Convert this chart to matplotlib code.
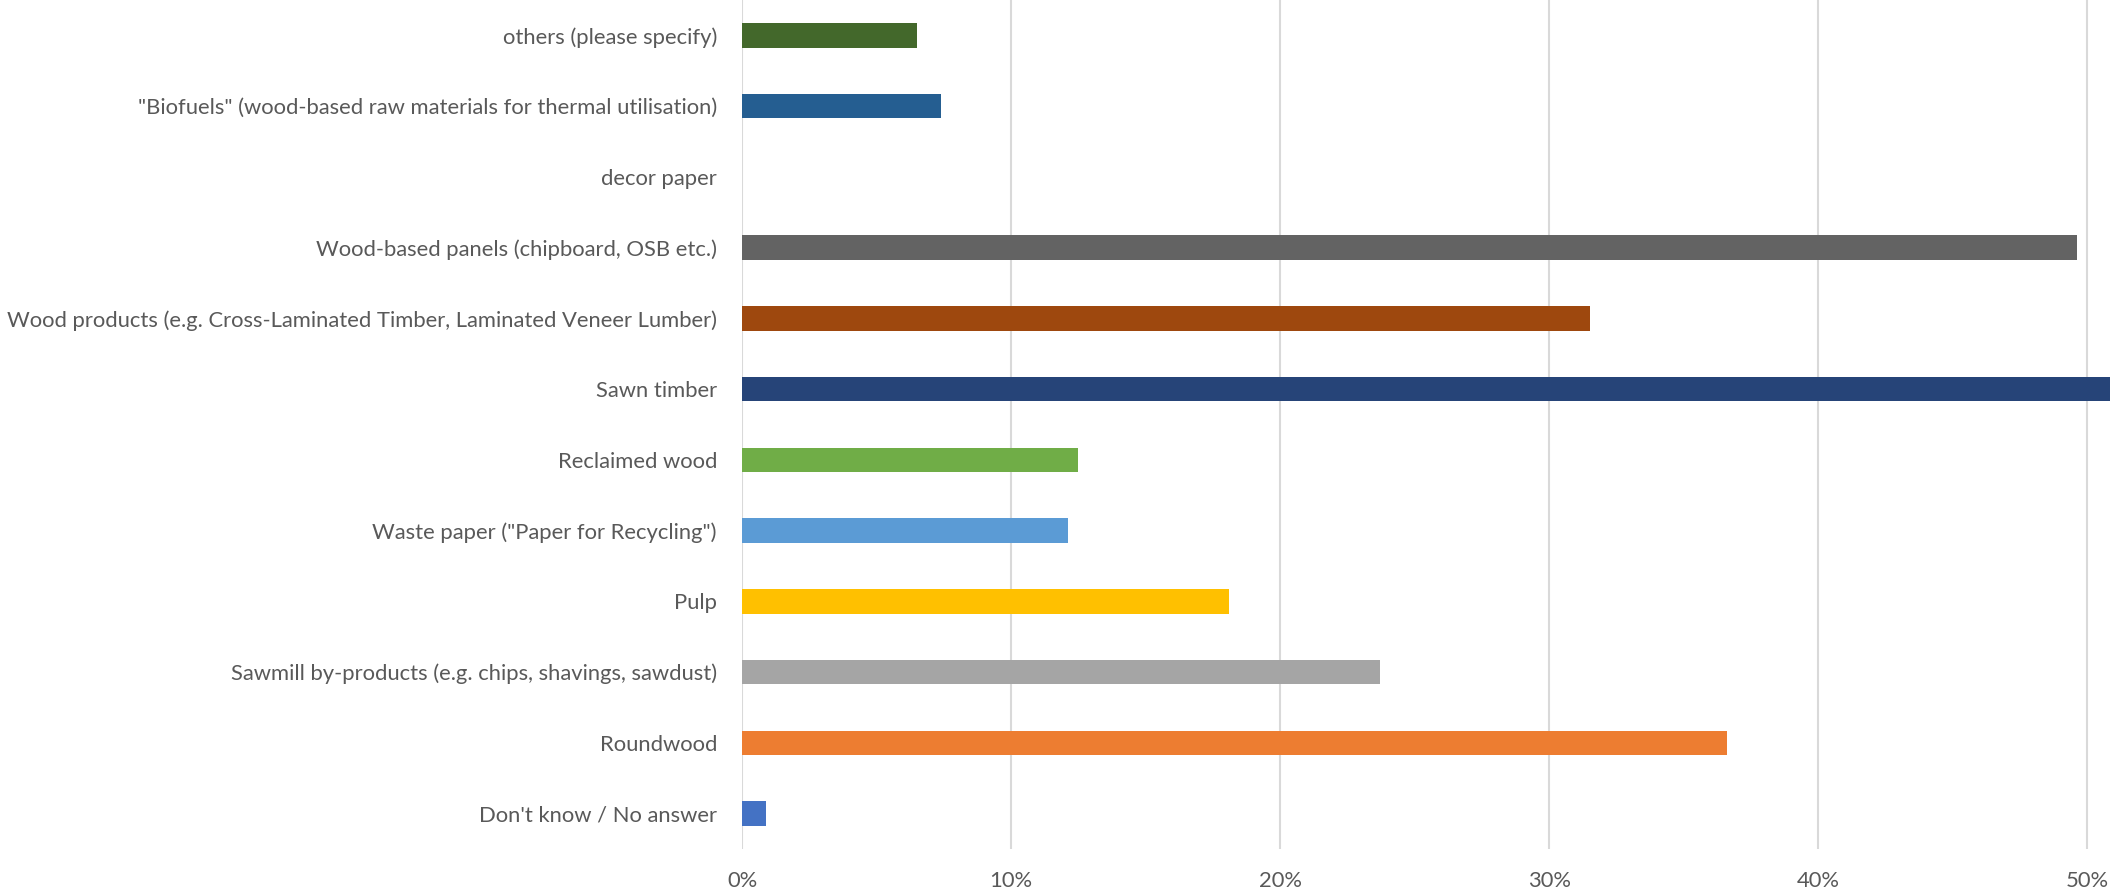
import matplotlib.pyplot as plt
from matplotlib.ticker import PercentFormatter, MultipleLocator

# categories bottom -> top
categories = [
    "Don't know / No answer",
    "Roundwood",
    "Sawmill by-products (e.g. chips, shavings, sawdust)",
    "Pulp",
    'Waste paper ("Paper for Recycling")',
    "Reclaimed wood",
    "Sawn timber",
    "Wood products (e.g. Cross-Laminated Timber, Laminated Veneer Lumber)",
    "Wood-based panels (chipboard, OSB etc.)",
    "decor paper",
    '"Biofuels" (wood-based raw materials for thermal utilisation)',
    "others (please specify)",
]
shares = [0.9, 36.6, 23.7, 18.1, 12.1, 12.5, 52.0, 31.5, 49.6, 0.0, 7.4, 6.5]
colors = ["#4472C4", "#ED7D31", "#A5A5A5", "#FFC000", "#5B9BD5", "#70AD47",
          "#264478", "#9E480E", "#636363", "#997300", "#255E91", "#43682B"]

plt.rcParams['font.family'] = ['Lato', 'DejaVu Sans']

fig = plt.figure(figsize=(21.1, 8.94), dpi=100)
ax = fig.add_axes([742 / 2110, 45 / 894, 1368 / 2110, 849 / 894])

ypos = range(len(categories))
ax.barh(ypos, shares, height=0.345, color=colors, zorder=3)

ax.set_xlim(0, 50.84)
ax.set_ylim(-0.5, len(categories) - 0.5)
ax.xaxis.set_major_locator(MultipleLocator(10))
ax.xaxis.set_major_formatter(PercentFormatter(decimals=0))
ax.set_yticks(list(ypos))
ax.set_yticklabels(categories)

ax.grid(axis='x', color='#D9D9D9', linewidth=1.5, zorder=0)
for s in ax.spines.values():
    s.set_visible(False)
ax.tick_params(axis='both', length=0, colors='#595959', labelsize=15.8)
ax.tick_params(axis='y', pad=18)
ax.tick_params(axis='x', pad=16)

fig.savefig('out.png', dpi=100)
